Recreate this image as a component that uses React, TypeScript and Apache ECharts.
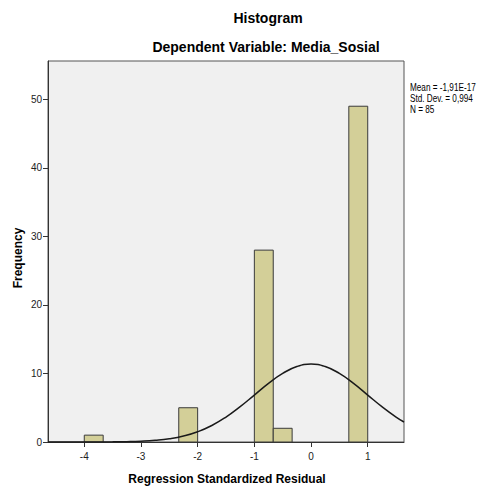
import React, { useEffect, useRef } from "react";
import * as echarts from "echarts";

const binStarts = [-4, -2.3333, -1, -0.6667, 0.6667];
const binWidth = 0.3333;
const counts = [1, 5, 28, 2, 49];

const curveX = [-4.64, -4.5, -4.25, -4, -3.75, -3.5, -3.25, -3, -2.75, -2.5, -2.25, -2, -1.75, -1.5, -1.25, -1, -0.75, -0.5, -0.25, 0, 0.25, 0.5, 0.75, 1, 1.25, 1.5, 1.64];
const curveY = [0, 0, 0.001, 0.003, 0.009, 0.023, 0.054, 0.12, 0.25, 0.48, 0.88, 1.5, 2.41, 3.64, 5.16, 6.85, 8.55, 10.0, 11.02, 11.37, 11.02, 10.0, 8.55, 6.85, 5.16, 3.64, 2.92];

const yTicks = [0, 10, 20, 30, 40, 50];
const xTicks = [-4, -3, -2, -1, 0, 1];

const statsLines = ["Mean = -1,91E-17", "Std. Dev. = 0,994", "N = 85"];

export default function App() {
  const ref = useRef<HTMLDivElement>(null);
  useEffect(() => {
    if (!ref.current) return;
    const chart = echarts.init(ref.current, null, { renderer: "svg" });
    const font = "'Liberation Sans', Arial, sans-serif";
    chart.setOption({
      animation: false,
      backgroundColor: "#ffffff",
      grid: {
        left: 48,
        right: 80,
        top: 61,
        bottom: 47,
        show: true,
        backgroundColor: "#f0f0f0",
        borderColor: "#555555",
        borderWidth: 1,
      },
      xAxis: {
        type: "value",
        min: -4.64,
        max: 1.64,
        splitLine: { show: false },
        axisLine: { show: true, onZero: false, lineStyle: { color: "#333333", width: 1 } },
        axisTick: { show: true, length: 5, customValues: xTicks, lineStyle: { color: "#333333" } },
        axisLabel: { customValues: xTicks, color: "#222222", fontSize: 10, fontFamily: font, margin: 9 },
      },
      yAxis: {
        type: "value",
        min: 0,
        max: 55.6,
        splitLine: { show: false },
        axisLine: { show: true, onZero: false, lineStyle: { color: "#333333", width: 1 } },
        axisTick: { show: true, length: 5, customValues: yTicks, lineStyle: { color: "#333333" } },
        axisLabel: { customValues: yTicks, color: "#222222", fontSize: 10, fontFamily: font, margin: 6 },
      },
      graphic: [
        {
          type: "text",
          x: 268,
          y: 18,
          style: { text: "Histogram", font: `bold 14px ${font}`, fill: "#000", textAlign: "center", textVerticalAlign: "middle" },
        },
        {
          type: "text",
          x: 266,
          y: 47,
          style: { text: "Dependent Variable: Media_Sosial", font: `bold 14px ${font}`, fill: "#000", textAlign: "center", textVerticalAlign: "middle" },
        },
        {
          type: "text",
          x: 227,
          y: 479,
          style: { text: "Regression Standardized Residual", font: `bold 12px ${font}`, fill: "#000", textAlign: "center", textVerticalAlign: "middle" },
        },
        {
          type: "text",
          x: 18,
          y: 258,
          rotation: Math.PI / 2,
          style: { text: "Frequency", font: `bold 12px ${font}`, fill: "#000", textAlign: "center", textVerticalAlign: "middle" },
        },
        {
          type: "text",
          x: 410,
          y: 82,
          scaleX: 0.82,
          style: { text: statsLines.join("\n"), font: `10px ${font}`, fill: "#000", textAlign: "left", textVerticalAlign: "top", lineHeight: 11 },
        },
      ],
      series: [
        {
          type: "custom",
          data: binStarts.map((s, i) => [s, s + binWidth, counts[i]]),
          encode: { x: [0, 1], y: 2 },
          renderItem: (params: any, api: any) => {
            const p0 = api.coord([api.value(0), api.value(2)]);
            const p1 = api.coord([api.value(1), 0]);
            return {
              type: "rect",
              shape: { x: p0[0], y: p0[1], width: p1[0] - p0[0], height: p1[1] - p0[1] },
              style: { fill: "#d3cf98", stroke: "#3a3a3a", lineWidth: 1 },
            };
          },
          z: 2,
        },
        {
          type: "line",
          data: curveX.map((x, i) => [x, curveY[i]]),
          smooth: true,
          showSymbol: false,
          symbol: "none",
          lineStyle: { color: "#1a1a1a", width: 1.5 },
          z: 3,
        },
      ],
    });
    return () => chart.dispose();
  }, []);
  return <div ref={ref} style={{ position: "fixed", left: 0, top: 0, width: 484, height: 489 }} />;
}
